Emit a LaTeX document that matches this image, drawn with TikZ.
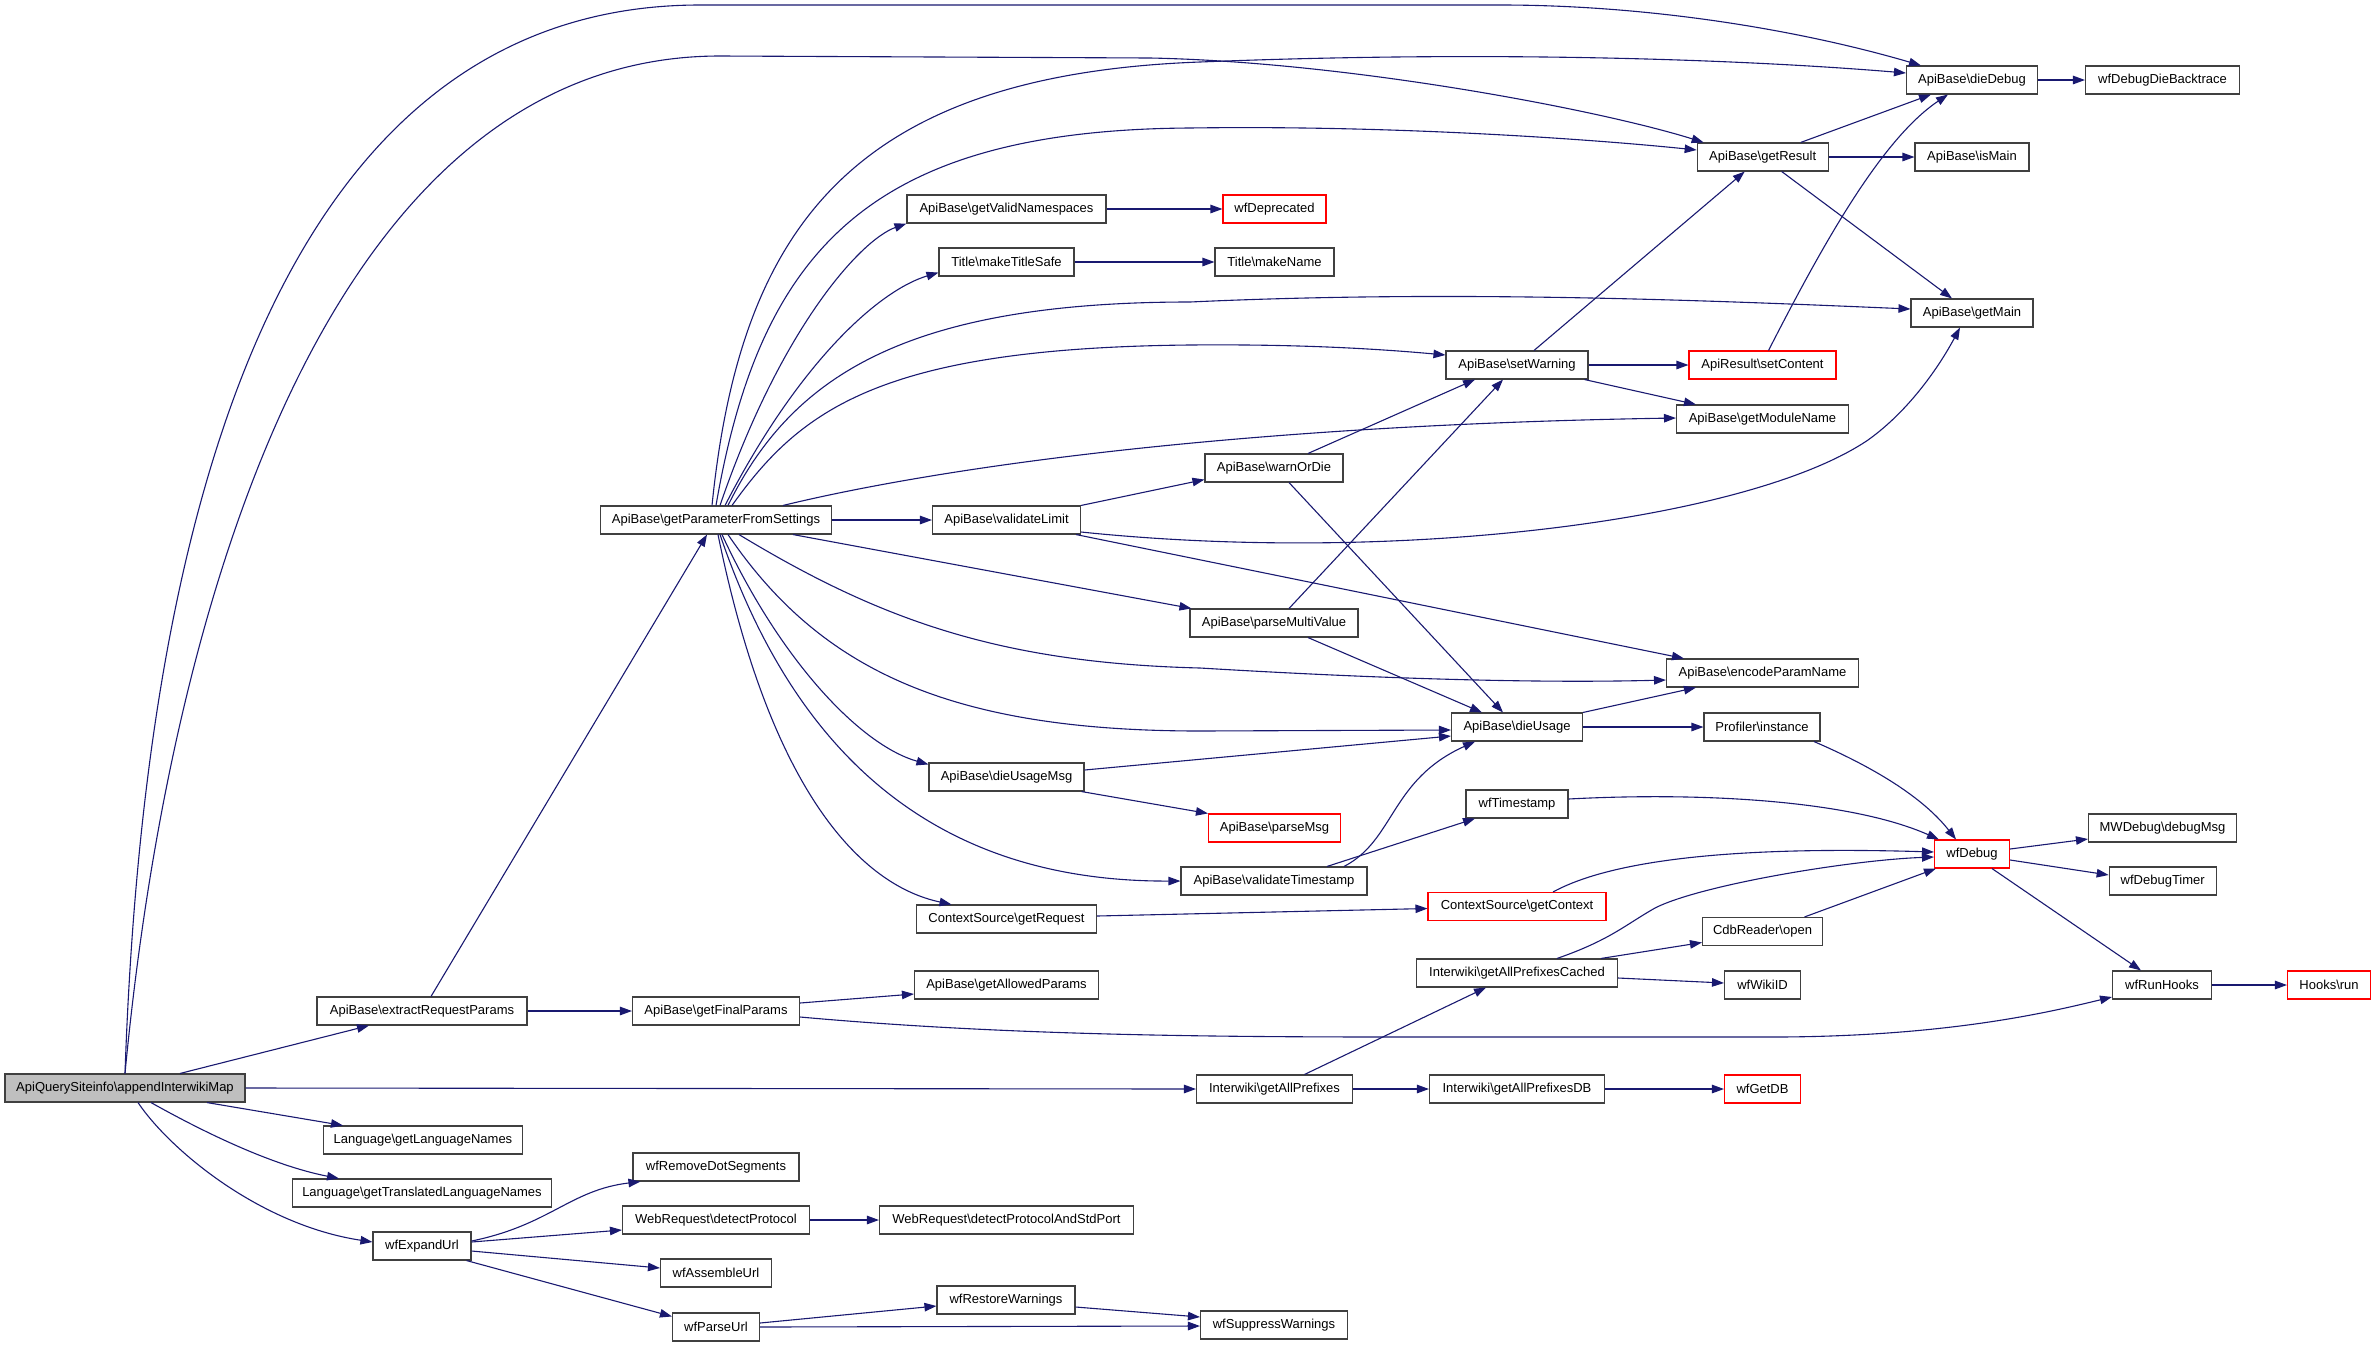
\documentclass[tikz,border=0pt]{standalone}
\usepackage{fontspec}
\setmainfont{Liberation Sans}
\usetikzlibrary{arrows.meta,calc}
\definecolor{edgec}{HTML}{191970}
\definecolor{mainfill}{HTML}{BFBFBF}
\newcommand\bsl{\textbackslash}
\tikzset{
  box/.style={draw=black!75, line width=1.1pt, fill=white, minimum height=28pt,
    inner xsep=0pt, inner ysep=0pt, font=\fontsize{13}{15}\selectfont, text=black},
  trunc/.style={draw=red},
  mainbox/.style={fill=mainfill},
  e/.style={draw=edgec, line width=1.1pt, -{Triangle[length=12pt,width=8.5pt]}}
}
\begin{document}
\begin{tikzpicture}[x=1pt,y=-1pt]
\useasboundingbox (0,0) rectangle (2376,1347);
% column 1
\node[box,mainbox,minimum width=240pt] (M) at (125,1088) {ApiQuerySiteinfo\bsl appendInterwikiMap};
% column 2
\node[box,minimum width=210pt] (E) at (422,1011) {ApiBase\bsl extractRequestParams};
\node[box,minimum width=199pt] (LN) at (423,1140) {Language\bsl getLanguageNames};
\node[box,minimum width=259pt] (TLN) at (422,1193) {Language\bsl getTranslatedLanguageNames};
\node[box,minimum width=98pt] (X) at (422,1246) {wfExpandUrl};
% column 3
\node[box,minimum width=231pt] (P) at (716,520) {ApiBase\bsl getParameterFromSettings};
\node[box,minimum width=167pt] (F) at (716,1011) {ApiBase\bsl getFinalParams};
\node[box,minimum width=166pt] (RDS) at (716,1167) {wfRemoveDotSegments};
\node[box,minimum width=187pt] (DP) at (716,1220) {WebRequest\bsl detectProtocol};
\node[box,minimum width=111pt] (AU) at (716,1273) {wfAssembleUrl};
\node[box,minimum width=87pt] (U) at (716,1327) {wfParseUrl};
% column 4
\node[box,minimum width=199pt] (VN) at (1006.5,209) {ApiBase\bsl getValidNamespaces};
\node[box,minimum width=135pt] (TS) at (1006.5,262) {Title\bsl makeTitleSafe};
\node[box,minimum width=148pt] (VL) at (1006.5,520) {ApiBase\bsl validateLimit};
\node[box,minimum width=155pt] (DM) at (1006.5,777) {ApiBase\bsl dieUsageMsg};
\node[box,minimum width=180pt] (GR) at (1006.5,919) {ContextSource\bsl getRequest};
\node[box,minimum width=184pt] (AL) at (1006.5,985) {ApiBase\bsl getAllowedParams};
\node[box,minimum width=254pt] (DPS) at (1006.5,1220) {WebRequest\bsl detectProtocolAndStdPort};
\node[box,minimum width=138pt] (RW) at (1006,1300) {wfRestoreWarnings};
% column 5
\node[box,trunc,minimum width=103pt] (DEP) at (1274.5,209) {wfDeprecated};
\node[box,minimum width=119pt] (MN) at (1274.5,262) {Title\bsl makeName};
\node[box,minimum width=138pt] (W) at (1274,468) {ApiBase\bsl warnOrDie};
\node[box,minimum width=168pt] (PM) at (1274,623) {ApiBase\bsl parseMultiValue};
\node[box,trunc,minimum width=132pt] (PMsg) at (1274.5,828) {ApiBase\bsl parseMsg};
\node[box,minimum width=186pt] (VT) at (1274,881) {ApiBase\bsl validateTimestamp};
\node[box,minimum width=156pt] (AP) at (1274.5,1089) {Interwiki\bsl getAllPrefixes};
\node[box,minimum width=147pt] (SupW) at (1274,1325) {wfSuppressWarnings};
% column 6
\node[box,minimum width=142pt] (SW) at (1517,365) {ApiBase\bsl setWarning};
\node[box,minimum width=131pt] (DU) at (1517,727) {ApiBase\bsl dieUsage};
\node[box,minimum width=102pt] (T) at (1517,804) {wfTimestamp};
\node[box,trunc,minimum width=178pt] (GC) at (1517,906.5) {ContextSource\bsl getContext};
\node[box,minimum width=201pt] (C) at (1517,973) {Interwiki\bsl getAllPrefixesCached};
\node[box,minimum width=175pt] (APDB) at (1517,1089) {Interwiki\bsl getAllPrefixesDB};
% column 7
\node[box,minimum width=131pt] (GRs) at (1762.7,157) {ApiBase\bsl getResult};
\node[box,trunc,minimum width=147pt] (SC) at (1762.5,365) {ApiResult\bsl setContent};
\node[box,minimum width=172pt] (MOD) at (1762.5,419) {ApiBase\bsl getModuleName};
\node[box,minimum width=192pt] (EPN) at (1762.5,673) {ApiBase\bsl encodeParamName};
\node[box,minimum width=116pt] (PI) at (1762,727) {Profiler\bsl instance};
\node[box,minimum width=120pt] (CO) at (1762.5,931.5) {CdbReader\bsl open};
\node[box,minimum width=76pt] (WID) at (1762.5,985) {wfWikiID};
\node[box,trunc,minimum width=76pt] (GDB) at (1762.5,1089) {wfGetDB};
% column 8
\node[box,minimum width=131pt] (DD) at (1972,80) {ApiBase\bsl dieDebug};
\node[box,minimum width=114pt] (IM) at (1972,157) {ApiBase\bsl isMain};
\node[box,minimum width=122pt] (GM) at (1972,313) {ApiBase\bsl getMain};
\node[box,trunc,minimum width=75pt] (D) at (1972,854) {wfDebug};
% column 9
\node[box,minimum width=154pt] (DDB) at (2162.5,80) {wfDebugDieBacktrace};
\node[box,minimum width=148pt] (MWD) at (2162.5,828) {MWDebug\bsl debugMsg};
\node[box,minimum width=107pt] (DT) at (2162.7,881) {wfDebugTimer};
\node[box,minimum width=99pt] (RH) at (2162,985) {wfRunHooks};
% column 10
\node[box,trunc,minimum width=83pt] (HR) at (2329,985) {Hooks\bsl run};

% ---- edges from main
\draw[e] (M.north) .. controls (140,640) and (230,5) .. (700,5) -- (1500,5) .. controls (1650,5) and (1800,30) .. ([xshift=15pt]DD.north west);
\draw[e] (M.north) .. controls (170,600) and (330,56) .. (720,56) -- (1150,58) .. controls (1350,62) and (1600,110) .. ([xshift=7pt]GRs.north west);
\draw[e] ([xshift=55pt]M.north) -- ([xshift=-53pt]E.south);
\draw[e] (M.east) -- (AP.west);
\draw[e] ([xshift=82pt]M.south) -- ([xshift=-80pt]LN.north);
\draw[e] ([xshift=26pt]M.south) .. controls (200,1130) and (270,1165) .. ([xshift=-83pt]TLN.north);
\draw[e] ([xshift=13pt]M.south) .. controls (170,1150) and (260,1225) .. ([yshift=4pt]X.west);
% ---- extractRequestParams, getFinalParams
\draw[e] ([xshift=9pt]E.north) -- ([xshift=-9pt]P.south);
\draw[e] (E.east) -- (F.west);
\draw[e] ([yshift=8pt]F.east) -- ([yshift=-9pt]AL.west);
\draw[e] ([yshift=-6pt]F.east) .. controls (1000,1035) and (1200,1037) .. (1400,1037) -- (1780,1037) .. controls (1950,1036) and (2050,1012) .. ([yshift=-12pt]RH.west);
% ---- wfExpandUrl
\draw[e] ([yshift=5pt]X.east) .. controls (550,1225) and (570,1190) .. ([xshift=8pt]RDS.south west);
\draw[e] ([yshift=4pt]X.east) -- ([yshift=-10pt]DP.west);
\draw[e] ([yshift=-5pt]X.east) -- ([yshift=5pt]AU.west);
\draw[e] ([xshift=-5pt]X.south east) -- ([yshift=-4pt]U.north west);
\draw[e] (DP.east) -- (DPS.west);
\draw[e] ([yshift=4pt]U.east) -- ([yshift=-6pt]RW.west);
\draw[e] (U.east) -- ([yshift=-1pt]SupW.west);
\draw[e] ([yshift=-7pt]RW.east) -- ([yshift=8pt]SupW.west);
% ---- getParameterFromSettings, upward fan
\draw[e] ([xshift=-4pt]P.north) .. controls (740,230) and (850,75) .. (1200,62) .. controls (1500,50) and (1750,60) .. ([yshift=7pt]DD.west);
\draw[e] (P.north) .. controls (760,250) and (870,130) .. (1190,128) .. controls (1400,125) and (1600,140) .. ([yshift=7pt]GRs.west);
\draw[e] ([xshift=4pt]P.north) .. controls (780,330) and (860,240) .. (VN.south west);
\draw[e] ([xshift=9pt]P.north) .. controls (800,360) and (880,290) .. ([yshift=4pt]TS.south west);
\draw[e] ([xshift=12pt]P.north) .. controls (790,380) and (900,302) .. (1190,302) .. controls (1450,290) and (1700,300) .. ([yshift=4pt]GM.west);
\draw[e] ([xshift=16pt]P.north) .. controls (800,410) and (880,348) .. (1190,345) .. controls (1300,344) and (1380,349) .. ([yshift=10pt]SW.west);
\draw[e] ([xshift=67pt]P.north) .. controls (950,465) and (1250,425) .. ([yshift=1pt]MOD.west);
% ---- getParameterFromSettings, rightward/downward
\draw[e] (P.east) -- (VL.west);
\draw[e] ([xshift=77pt]P.south) -- ([xshift=2pt]PM.north west);
\draw[e] ([xshift=23pt]P.south) .. controls (880,620) and (1000,663) .. (1200,668) .. controls (1400,680) and (1550,683) .. ([yshift=-7pt]EPN.west);
\draw[e] ([xshift=12pt]P.south) .. controls (820,670) and (950,731) .. (1200,731) -- ([yshift=-3pt]DU.west);
\draw[e] ([xshift=6pt]P.south) .. controls (780,660) and (860,745) .. ([yshift=-2pt]DM.north west);
\draw[e] ([xshift=4pt]P.south) .. controls (800,770) and (950,882) .. (VT.west);
\draw[e] ([xshift=2pt]P.south) .. controls (770,790) and (860,885) .. ([xshift=-55pt]GR.north);
% ---- validateLimit
\draw[e] (VL.north east) -- ([yshift=3pt]W.south west);
\draw[e] ([yshift=-12pt]VL.east) .. controls (1400,565) and (1750,520) .. (1868,440) .. controls (1910,410) and (1940,365) .. ([xshift=-12pt]GM.south);
\draw[e] ([xshift=-5pt]VL.south east) -- ([xshift=18pt]EPN.north west);
% ---- column 5 sources
\draw[e] ([xshift=34pt]W.north) -- ([xshift=-42pt]SW.south);
\draw[e] ([xshift=15pt]W.south) -- ([xshift=-14pt]DU.north);
\draw[e] ([xshift=15pt]PM.north) -- ([xshift=-14pt]SW.south);
\draw[e] ([xshift=34pt]PM.south) -- ([xshift=-35pt]DU.north);
\draw[e] ([yshift=7pt]DM.east) -- ([yshift=-9pt]DU.west);
\draw[e] ([xshift=-3pt]DM.south east) -- (PMsg.north west);
\draw[e] ([xshift=70pt]VT.north) .. controls (1395,840) and (1390,780) .. ([xshift=-42pt]DU.south);
\draw[e] ([xshift=53pt]VT.north) -- ([xshift=-42pt]T.south);
\draw[e] ([yshift=3pt]GR.east) -- ([yshift=-2pt]GC.west);
\draw[e] ([xshift=30pt]AP.north) -- ([xshift=-31pt]C.south);
\draw[e] (AP.east) -- (APDB.west);
\draw[e] (APDB.east) -- (GDB.west);
\draw[e] (VN.east) -- (DEP.west);
\draw[e] (TS.east) -- (MN.west);
% ---- column 6 sources
\draw[e] (DU.north east) -- ([xshift=30pt]EPN.south west);
\draw[e] (DU.east) -- (PI.west);
\draw[e] ([yshift=5pt]T.east) .. controls (1700,792) and (1850,800) .. ([xshift=5pt]D.north west);
\draw[e] ([xshift=36pt]GC.north) .. controls (1630,850) and (1800,848) .. ([yshift=2pt]D.west);
\draw[e] ([xshift=40pt]C.north) .. controls (1610,940) and (1625,925) .. (1655,908) .. controls (1700,885) and (1850,860) .. ([yshift=-3pt]D.west);
\draw[e] ([xshift=84pt]C.north) -- ([yshift=-11pt]CO.west);
\draw[e] ([yshift=-5pt]C.east) -- ([yshift=2pt]WID.west);
\draw[e] ([xshift=17pt]SW.north) -- ([xshift=-18pt]GRs.south);
\draw[e] (SW.east) -- (SC.west);
\draw[e] ([xshift=-4pt]SW.south east) -- ([xshift=20pt]MOD.north west);
% ---- column 7 sources
\draw[e] ([xshift=42pt]CO.north) -- ([xshift=2pt]D.south west);
\draw[e] ([xshift=52pt]PI.south) .. controls (1880,770) and (1925,800) .. ([xshift=-16pt]D.north);
\draw[e] ([xshift=38pt]GRs.north) -- ([xshift=-41pt]DD.south);
\draw[e] (GRs.east) -- (IM.west);
\draw[e] ([xshift=19pt]GRs.south) -- ([xshift=-20pt]GM.north);
\draw[e] ([xshift=6pt]SC.north) .. controls (1820,250) and (1880,140) .. ([xshift=-24pt]DD.south);
% ---- column 8 sources
\draw[e] (DD.east) -- (DDB.west);
\draw[e] ([yshift=5pt]D.east) -- ([yshift=-11pt]MWD.west);
\draw[e] ([yshift=-6pt]D.east) -- ([yshift=6pt]DT.west);
\draw[e] ([xshift=20pt]D.south) -- ([xshift=-21pt]RH.north);
\draw[e] (RH.east) -- (HR.west);
\end{tikzpicture}
\end{document}
